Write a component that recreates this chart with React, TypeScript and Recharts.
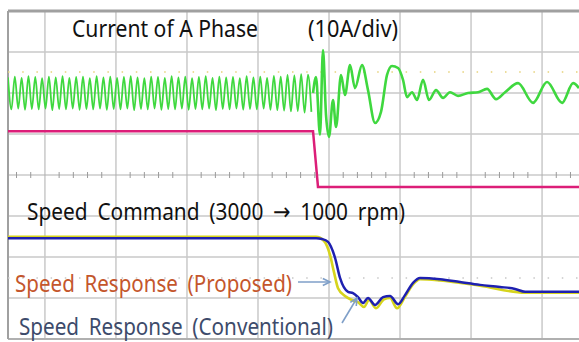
import React from 'react';
import { ComposedChart, Line, Scatter, XAxis, YAxis, ReferenceLine } from 'recharts';

// time in divisions (1 div = one grid column), level in divisions (1 div = one grid row)
const T_MIN = -0.52;
const T_MAX = 7.52;
const V_MIN = -4;
const V_MAX = 4;

const gridT = [0, 1, 2, 3, 4, 5, 6, 7];
const gridV = [-3, -2, -1, 1, 2, 3];
const minorTickT = [
  -0.4, -0.2, 0.2, 0.4, 0.6, 0.8, 1.2, 1.4, 1.6, 1.8, 2.2, 2.4, 2.6, 2.8, 3.2, 3.4, 3.6, 3.8,
  4.2, 4.4, 4.6, 4.8, 5.2, 5.4, 5.6, 5.8, 6.2, 6.4, 6.6, 6.8, 7.2, 7.4,
];

// phase A current, steady part sampled every CURRENT_STEP div
const CURRENT_START = -0.52;
const CURRENT_STEP = 0.048;
const currentSteady = [
  2.38, 1.6, 2.4, 1.62, 2.37, 1.59, 2.41, 1.61, 2.39, 1.6,
  2.36, 1.62, 2.4, 1.58, 2.38, 1.61, 2.41, 1.6, 2.37, 1.62,
  2.39, 1.59, 2.4, 1.61, 2.36, 1.6, 2.41, 1.62, 2.38, 1.59,
  2.4, 1.61, 2.37, 1.6, 2.39, 1.62, 2.41, 1.58, 2.38, 1.61,
  2.36, 1.6, 2.4, 1.62, 2.39, 1.59, 2.37, 1.61, 2.41, 1.6,
  2.38, 1.62, 2.4, 1.59, 2.36, 1.61, 2.39, 1.6, 2.41, 1.62,
  2.37, 1.58, 2.4, 1.61, 2.38, 1.6, 2.39, 1.62, 2.36, 1.59,
  2.41, 1.61, 2.38, 1.6, 2.4, 1.62, 2.37, 1.59, 2.42, 1.58,
  2.4, 1.57, 2.44, 1.55, 2.43, 1.56, 2.46, 1.52, 2.45, 1.54,
];
const currentTransientT = [
  3.775, 3.817, 3.873, 3.915, 3.958, 4.0, 4.056, 4.099, 4.169, 4.225,
  4.296, 4.366, 4.465, 4.549, 4.648, 4.732, 4.817, 4.887, 4.972, 5.042,
  5.099, 5.169, 5.239, 5.324, 5.408, 5.507, 5.606, 5.704, 5.817, 5.958,
  6.099, 6.225, 6.352, 6.479, 6.662, 6.873, 7.07, 7.282, 7.437, 7.52,
];
const currentTransientV = [
  2.0, 2.39, 0.98, 3.05, 1.46, 0.93, 1.83, 1.17, 2.44, 1.95,
  2.68, 2.12, 2.68, 2.07, 1.27, 1.54, 2.44, 2.66, 2.61, 2.32,
  1.9, 2.02, 1.83, 2.32, 1.83, 2.07, 1.88, 2.02, 1.93, 2.0,
  2.02, 2.1, 1.85, 2.02, 2.24, 1.76, 2.27, 1.76, 2.24, 2.12,
];

// speed command step 3000 -> 1000 rpm
const commandT = [-0.52, 3.775, 3.845, 7.52];
const commandV = [1.07, 1.07, -0.29, -0.29];

// speed responses
const proposedT = [
  -0.52, 3.817, 3.901, 3.986, 4.085, 4.155, 4.268, 4.338, 4.408, 4.479,
  4.549, 4.648, 4.761, 4.859, 4.972, 5.07, 5.183, 5.282, 5.563, 5.845,
  6.127, 6.408, 6.62, 6.761, 6.972, 7.52,
];
const proposedV = [
  -1.54, -1.54, -1.56, -1.63, -2.02, -2.51, -2.85, -2.88, -2.98, -3.12,
  -3.0, -3.17, -2.98, -2.95, -3.15, -2.93, -2.63, -2.51, -2.54, -2.61,
  -2.68, -2.73, -2.78, -2.85, -2.85, -2.85,
];
const conventionalT = [
  -0.52, 3.817, 3.93, 4.014, 4.07, 4.127, 4.225, 4.324, 4.408, 4.493,
  4.563, 4.662, 4.775, 4.859, 4.958, 5.07, 5.183, 5.282, 5.563, 6.127,
  6.761, 7.52,
];
const conventionalV = [
  -1.51, -1.51, -1.61, -1.95, -2.37, -2.76, -2.95, -3.05, -3.1, -3.22,
  -3.05, -3.25, -3.03, -3.0, -3.25, -2.97, -2.67, -2.54, -2.57, -2.7,
  -2.87, -2.87,
];

// annotation arrows [t1, v1, t2, v2]
const arrowProposed = [3.563, -2.61, 4.014, -2.61];
const arrowConventional = [4.183, -3.61, 4.394, -3.0];

const zip = (ts: number[], vs: number[]) => ts.map((t, i) => ({ t, v: vs[i] }));

const steadyData = currentSteady.map((v, i) => ({ t: CURRENT_START + i * CURRENT_STEP, v }));
const transientData = zip(currentTransientT, currentTransientV);
const commandData = zip(commandT, commandV);
const proposedData = zip(proposedT, proposedV);
const conventionalData = zip(conventionalT, conventionalV);
const tickData = minorTickT.map((t) => ({ t, v: 0 }));

const GRID = '#c9c9c9';
const ARROW = '#7f9fc8';
const FONT = '"Noto Sans", "DejaVu Sans", sans-serif';

function ArrowShape(props: any) {
  const { x1, y1, x2, y2 } = props;
  const a = Math.atan2(y2 - y1, x2 - x1);
  const h = 8;
  const s = 0.45;
  return (
    <g stroke={ARROW} strokeWidth={1.6} fill="none">
      <line x1={x1} y1={y1} x2={x2} y2={y2} />
      <polyline
        points={`${x2 - h * Math.cos(a - s)},${y2 - h * Math.sin(a - s)} ${x2},${y2} ${x2 - h * Math.cos(a + s)},${y2 - h * Math.sin(a + s)}`}
      />
    </g>
  );
}

function TickShape(props: any) {
  const { cx, cy } = props;
  return <line x1={cx} x2={cx} y1={cy - 3} y2={cy + 3} stroke="#9a9a9a" strokeWidth={1} />;
}

export default function App() {
  return (
    <div style={{ position: 'relative', width: 579, height: 342, background: '#fff', overflow: 'hidden' }}>
      <style>{'body{margin:0}'}</style>
      <ComposedChart width={579} height={342} margin={{ top: 11, right: 0, bottom: 3, left: 8 }}>
        <XAxis type="number" dataKey="t" domain={[T_MIN, T_MAX]} allowDataOverflow hide />
        <YAxis type="number" dataKey="v" domain={[V_MIN, V_MAX]} allowDataOverflow hide />

        {gridT.map((t) => (
          <ReferenceLine key={`gx${t}`} x={t} stroke={GRID} strokeWidth={1.5} />
        ))}
        {gridV.map((v) => (
          <ReferenceLine key={`gy${v}`} y={v} stroke={GRID} strokeWidth={1.5} />
        ))}
        <ReferenceLine y={0} stroke="#b0b0b0" strokeWidth={1.2} />
        <ReferenceLine y={V_MAX} stroke="#a0a0a0" strokeWidth={3} />
        <ReferenceLine y={V_MIN} stroke="#b0b0b0" strokeWidth={2} />
        <ReferenceLine x={T_MIN} stroke="#a0a0a0" strokeWidth={2} />
        <ReferenceLine y={2.51} stroke="#e6d27a" strokeWidth={1.5} strokeDasharray="1.5 12.7" />
        <ReferenceLine y={-2.51} stroke="#c8c8c8" strokeWidth={1.5} strokeDasharray="1.5 12.7" />

        <Scatter data={tickData} dataKey="v" shape={<TickShape />} isAnimationActive={false} />

        <Line data={steadyData} dataKey="v" type="monotone" stroke="#3fd83f" strokeWidth={1.8} dot={false} isAnimationActive={false} />
        <Line data={transientData} dataKey="v" type="monotone" stroke="#3fd83f" strokeWidth={2.6} dot={false} isAnimationActive={false} />
        <Line data={commandData} dataKey="v" type="linear" stroke="#dc1e78" strokeWidth={2.5} dot={false} isAnimationActive={false} />
        <Line data={conventionalData} dataKey="v" type="monotone" stroke="#d6d41c" strokeWidth={2.6} dot={false} isAnimationActive={false} />
        <Line data={proposedData} dataKey="v" type="monotone" stroke="#1e20b0" strokeWidth={2.5} dot={false} isAnimationActive={false} />

        <ReferenceLine
          segment={[{ x: arrowProposed[0], y: arrowProposed[1] }, { x: arrowProposed[2], y: arrowProposed[3] }]}
          shape={ArrowShape}
        />
        <ReferenceLine
          segment={[{ x: arrowConventional[0], y: arrowConventional[1] }, { x: arrowConventional[2], y: arrowConventional[3] }]}
          shape={ArrowShape}
        />
      </ComposedChart>

      <svg width={579} height={342} style={{ position: 'absolute', left: 0, top: 0, pointerEvents: 'none' }} fontFamily={FONT} fontSize={24}>
        <text x={72} y={37} fill="#111" textLength={186} lengthAdjust="spacingAndGlyphs">Current of A Phase</text>
        <text x={308} y={37} fill="#111" textLength={90} lengthAdjust="spacingAndGlyphs">(10A/div)</text>
        <text x={27} y={220} fill="#111" wordSpacing={5} textLength={378} lengthAdjust="spacingAndGlyphs">Speed Command (3000 → 1000 rpm)</text>
        <text x={15} y={292} fill="#c4562c" wordSpacing={5} textLength={277} lengthAdjust="spacingAndGlyphs">Speed Response (Proposed)</text>
        <text x={19} y={335} fill="#3d4b6b" wordSpacing={5} textLength={314} lengthAdjust="spacingAndGlyphs">Speed Response (Conventional)</text>
      </svg>
    </div>
  );
}
